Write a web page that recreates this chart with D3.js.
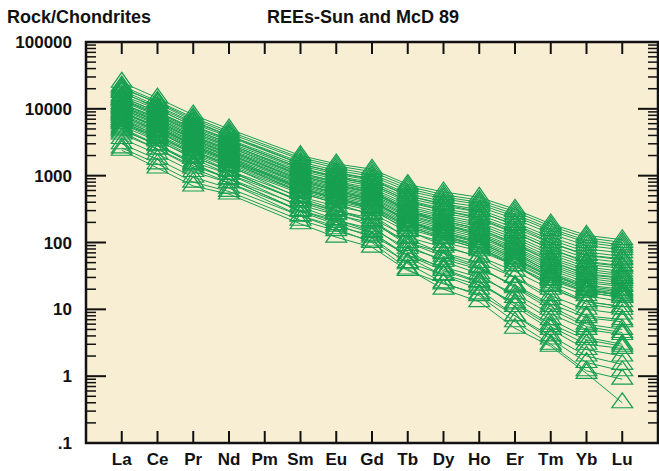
<!DOCTYPE html>
<html>
<head>
<meta charset="utf-8">
<script src="https://cdn.jsdelivr.net/npm/d3@7"></script>
<style>
  body { margin: 0; background: #fff; }
  svg text { font-family: "Liberation Sans", Arial, sans-serif; font-weight: bold; fill: #111; }
</style>
</head>
<body>
<div id="chart"></div>
<script>
// elementos en orden (Pm sin datos)
var elements = ["La", "Ce", "Pr", "Nd", "Pm", "Sm", "Eu", "Gd", "Tb", "Dy", "Ho", "Er", "Tm", "Yb", "Lu"];
var measured = ["La", "Ce", "Pr", "Nd", "Sm", "Eu", "Gd", "Tb", "Dy", "Ho", "Er", "Tm", "Yb", "Lu"];
var yTickValues = [0.1, 1, 10, 100, 1000, 10000, 100000];
var yTickLabels = [".1", "1", "10", "100", "1000", "10000", "100000"];

// muestras normalizadas a condrito (La..Lu sin Pm)
var grupoAlto = [
  [25000, 14500, 8100, 5000, 2000, 1500, 1250, 740, 570, 475, 315, 190, 128, 110],
  [22000, 13000, 7400, 4600, 1850, 1400, 1150, 690, 520, 430, 290, 175, 118, 100],
  [21000, 12000, 6600, 4000, 1500, 1100, 880, 500, 370, 290, 180, 100, 65, 57],
  [20000, 12500, 7000, 4300, 1750, 1300, 1050, 640, 480, 400, 265, 160, 108, 92],
  [19000, 11000, 6300, 4000, 1600, 1200, 980, 590, 450, 370, 245, 150, 100, 85],
  [18000, 10000, 5500, 3400, 1300, 950, 750, 420, 300, 230, 140, 80, 50, 44],
  [17500, 10500, 6000, 3800, 1500, 1120, 900, 540, 410, 340, 225, 135, 90, 78],
  [16000, 9800, 5600, 3500, 1400, 1050, 850, 500, 380, 310, 200, 120, 80, 70],
  [15000, 9000, 5200, 3300, 1300, 980, 790, 460, 350, 285, 185, 110, 72, 62],
  [14000, 8600, 4900, 3100, 1250, 930, 740, 430, 320, 260, 165, 98, 64, 55],
  [14000, 8000, 4500, 2700, 1000, 720, 560, 300, 210, 160, 95, 52, 33, 29],
  [13500, 8200, 4700, 2900, 1180, 880, 700, 400, 300, 240, 150, 88, 58, 50],
  [13000, 7800, 4400, 2800, 1100, 820, 650, 370, 275, 220, 138, 80, 52, 45],
  [12000, 7400, 4200, 2650, 1050, 780, 610, 345, 255, 200, 125, 72, 47, 41],
  [11500, 7000, 4000, 2500, 1000, 740, 580, 325, 240, 185, 115, 66, 43, 37],
  [11000, 6700, 3800, 2400, 950, 700, 550, 305, 225, 172, 106, 60, 40, 34],
  [10500, 6400, 3650, 2300, 900, 670, 520, 290, 210, 160, 98, 56, 37, 32],
  [10000, 6100, 3500, 2200, 870, 640, 500, 275, 200, 150, 92, 52, 34, 30],
  [9500, 5800, 3300, 2100, 830, 610, 475, 260, 188, 140, 85, 48, 31, 27],
  [9000, 5500, 3150, 2000, 800, 590, 455, 250, 180, 133, 80, 45, 29, 25],
  [8600, 5300, 3000, 1900, 760, 560, 435, 238, 170, 126, 76, 42, 27, 23],
  [8200, 5000, 2850, 1800, 720, 530, 410, 225, 160, 118, 71, 39, 25, 22],
  [7800, 4800, 2700, 1720, 690, 505, 390, 212, 150, 110, 66, 36, 23, 20],
  [7400, 4600, 2600, 1650, 660, 480, 370, 200, 142, 104, 62, 34, 22, 19],
  [7000, 4400, 2500, 1580, 630, 460, 350, 190, 134, 98, 58, 32, 21, 18],
  [6600, 4100, 2350, 1500, 600, 440, 335, 180, 126, 92, 55, 30, 20, 17],
  [6300, 3900, 2250, 1420, 570, 415, 318, 170, 120, 87, 52, 28, 19, 16],
  [6000, 3700, 2150, 1350, 540, 395, 300, 160, 113, 82, 49, 27, 18, 15]
];

var grupoEmpinado = [
  [15000, 9000, 5000, 3000, 1100, 800, 600, 300, 190, 130, 70, 35, 20, 16],
  [12000, 7200, 3900, 2400, 850, 600, 430, 210, 130, 85, 45, 22, 12, 10],
  [11000, 6500, 3500, 2100, 760, 540, 410, 210, 140, 100, 58, 30, 18, 15],
  [10000, 6000, 3200, 1900, 650, 450, 320, 150, 90, 60, 30, 14, 8, 7],
  [9000, 5300, 2900, 1750, 640, 460, 340, 175, 115, 80, 45, 23, 13, 11],
  [9000, 5200, 2800, 1650, 560, 380, 260, 115, 68, 44, 21, 10, 5.5, 4.5],
  [8000, 4600, 2400, 1400, 460, 310, 210, 90, 52, 34, 15, 7, 3.8, 3],
  [7000, 4000, 2100, 1200, 400, 270, 175, 72, 40, 26, 11, 5, 2.5, 2],
  [6500, 3600, 1950, 1150, 420, 290, 210, 100, 62, 42, 22, 11, 6, 5],
  [6000, 3400, 1800, 1050, 340, 220, 145, 60, 32, 20, 8, 3.6, 1.6, 1.2],
  [5200, 2900, 1500, 900, 290, 185, 120, 48, 25, 16, 6.5, 3, 1.2, 0.9],
  [5000, 2800, 1500, 880, 300, 200, 140, 64, 38, 25, 12, 5.5, 3, 2.6],
  [4500, 2500, 1300, 780, 250, 160, 100, 40, 20, 13, 5.2, 2.8, 1.1, 0.4]
];

var grupoBajo = [
  [5500, 3300, 1900, 1200, 480, 350, 270, 145, 100, 75, 45, 25, 16, 13],
  [4800, 2900, 1600, 1050, 420, 300, 230, 120, 85, 62, 37, 20, 13, 11],
  [4200, 2500, 1400, 900, 360, 260, 195, 100, 70, 50, 30, 16, 10, 8.5],
  [3600, 2100, 1150, 780, 300, 215, 160, 82, 56, 40, 23, 12, 7.5, 6.5],
  [3000, 1750, 950, 650, 250, 175, 128, 64, 43, 30, 17, 8.5, 5, 4.2],
  [2600, 1500, 800, 580, 215, 150, 105, 50, 33, 23, 12.5, 6, 3.5, 2.8],
  [2400, 1300, 700, 530, 190, 120, 85, 38, 24, 17, 8, 4, 2, 1.5]
];

var muestras = grupoAlto.concat(grupoEmpinado, grupoBajo);

var width = 659, height = 471,
    margin = ({top: 42, right: 1, bottom: 28, left: 86});
var verde = "#17a050";

var svg = d3.select("#chart").append("svg")
    .attr("width", width)
    .attr("height", height);

var x = d3.scalePoint()
    .domain(elements)
    .range([margin.left, width - margin.right])
    .padding(1);

var y = d3.scaleLog()
    .domain([0.1, 100000])
    .range([height - margin.bottom, margin.top]);

// fondo del area
svg.append("rect")
    .attr("x", margin.left)
    .attr("y", margin.top)
    .attr("width", width - margin.right - margin.left)
    .attr("height", height - margin.bottom - margin.top)
    .attr("fill", "#f7eed3");

var line = d3.line()
    .x(d => x(d.el))
    .y(d => y(d.v));

var tri = d3.symbol().type(d3.symbolTriangle).size(150);

var plot = svg.append("g");

muestras.forEach(function(m) {
  var pts = measured.map((el, i) => ({el: el, v: m[i]}));
  var g = plot.append("g");
  g.append("path")
      .attr("d", line(pts))
      .attr("fill", "none")
      .attr("stroke", verde)
      .attr("stroke-width", 1);
  g.selectAll("path.tri")
    .data(pts)
    .join("path")
      .attr("class", "tri")
      // triangulo un poco mas ancho que alto, como en el original
      .attr("transform", d => "translate(" + x(d.el) + "," + y(d.v) + ") scale(1.12,0.92)")
      .attr("d", tri)
      .attr("fill", "none")
      .attr("stroke", verde)
      .attr("stroke-width", 1.2);
});

// ticks menores del eje log
var minor = [];
for (var e = -1; e < 5; e++) {
  for (var k = 2; k <= 9; k++) minor.push(k * Math.pow(10, e));
}

var frameL = margin.left, frameR = width - margin.right,
    frameT = margin.top, frameB = height - margin.bottom;

var ticks = svg.append("g").attr("stroke", "#111");

// izquierda
ticks.selectAll("line.ymaj").data(yTickValues).join("line")
    .attr("x1", frameL).attr("x2", frameL + 20)
    .attr("y1", d => y(d)).attr("y2", d => y(d))
    .attr("stroke-width", 2);
ticks.selectAll("line.ymin").data(minor).join("line")
    .attr("class", "ymin")
    .attr("x1", frameL).attr("x2", frameL + 10)
    .attr("y1", d => y(d)).attr("y2", d => y(d))
    .attr("stroke-width", 1.5);
// derecha
ticks.append("g").selectAll("line").data(yTickValues).join("line")
    .attr("x1", frameR).attr("x2", frameR - 20)
    .attr("y1", d => y(d)).attr("y2", d => y(d))
    .attr("stroke-width", 2);
ticks.append("g").selectAll("line").data(minor).join("line")
    .attr("x1", frameR).attr("x2", frameR - 10)
    .attr("y1", d => y(d)).attr("y2", d => y(d))
    .attr("stroke-width", 1.5);
// arriba y abajo
ticks.append("g").selectAll("line").data(elements).join("line")
    .attr("x1", d => x(d)).attr("x2", d => x(d))
    .attr("y1", frameT).attr("y2", frameT + 12)
    .attr("stroke-width", 2);
ticks.append("g").selectAll("line").data(elements).join("line")
    .attr("x1", d => x(d)).attr("x2", d => x(d))
    .attr("y1", frameB).attr("y2", frameB - 12)
    .attr("stroke-width", 2);

// marco
svg.append("rect")
    .attr("x", frameL)
    .attr("y", frameT)
    .attr("width", frameR - frameL)
    .attr("height", frameB - frameT)
    .attr("fill", "none")
    .attr("stroke", "#111")
    .attr("stroke-width", 2.5);

// etiquetas
svg.append("g").selectAll("text").data(yTickValues).join("text")
    .attr("x", 72)
    .attr("y", d => y(d))
    .attr("dy", "0.36em")
    .attr("text-anchor", "end")
    .attr("font-size", "17px")
    .text((d, i) => yTickLabels[i]);

svg.append("g").selectAll("text").data(elements).join("text")
    .attr("x", d => x(d))
    .attr("y", 465)
    .attr("text-anchor", "middle")
    .attr("font-size", "17px")
    .text(d => d);

svg.append("text")
    .attr("x", 7)
    .attr("y", 23)
    .attr("font-size", "18px")
    .text("Rock/Chondrites");

svg.append("text")
    .attr("x", 267)
    .attr("y", 23)
    .attr("font-size", "18px")
    .text("REEs-Sun and McD 89");
</script>
</body>
</html>
